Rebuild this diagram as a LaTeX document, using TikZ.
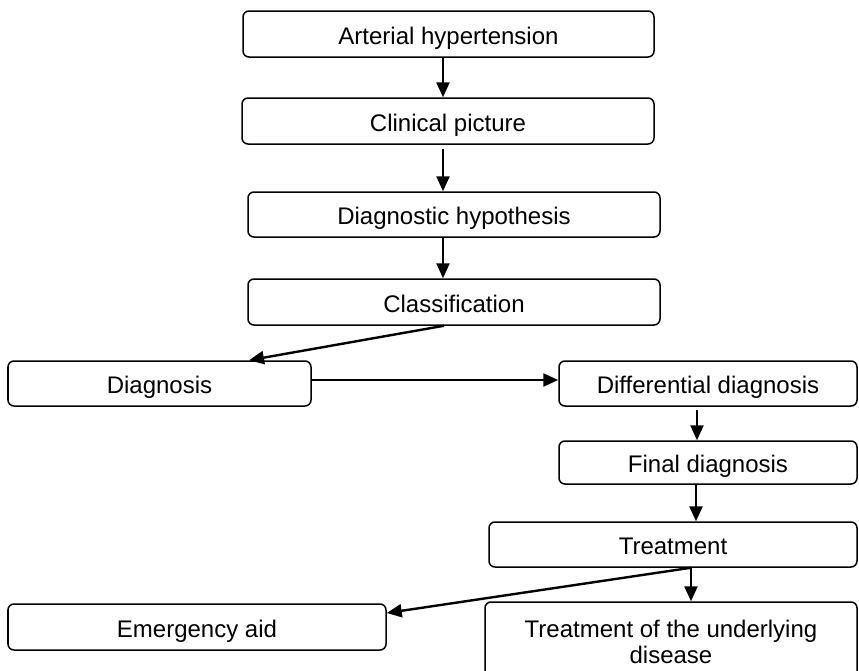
\documentclass[tikz,border=0pt]{standalone}
\usepackage{fontspec}
\setmainfont{Liberation Sans}
\usetikzlibrary{arrows.meta}
\tikzstyle{stage}=[
        draw,
        rounded corners=3pt,
        line width=0.75pt,
        inner sep=0pt,
        text height=10pt,
        text depth=0pt,
        font=\fontsize{12pt}{13pt}\selectfont
]
\tikzstyle{flow}=[
        line width=1.2pt,
        -{Triangle[length=7.5pt,width=6.5pt]}
]

\begin{document}
\begin{tikzpicture}[x=0.5pt,y=-0.5pt]
                        \useasboundingbox (0,0) rectangle (859,671);

                        \node[stage, minimum width=205.5pt, minimum height=23pt] (ah) at (448.5,34) {Arterial hypertension};
                        \node[stage, minimum width=206pt, minimum height=23pt] (cp) at (448,121) {Clinical picture};
                        \node[stage, minimum width=206pt, minimum height=22.5pt] (dh) at (454,214.5) {Diagnostic hypothesis};
                        \node[stage, minimum width=206pt, minimum height=23pt] (cl) at (454,302) {Classification};

                        \node[stage, minimum width=151.5pt, minimum height=22.5pt] (dg) at (159.5,383.5) {Diagnosis};
                        \node[stage, minimum width=149pt, minimum height=22.5pt] (dd) at (708,383.5) {Differential diagnosis};
                        \node[stage, minimum width=149pt, minimum height=21.5pt] (fd) at (708,462.5) {Final diagnosis};
                        \node[stage, minimum width=184pt, minimum height=22.5pt] (tr) at (673,544.5) {Treatment};

                        \node[stage, minimum width=189pt, minimum height=23pt] (ea) at (197,627) {Emergency aid};
                        \node[stage, text height=22pt, minimum width=186pt, minimum height=39pt, align=center] (ud) at (671,641) {Treatment of the underlying\\disease};

                        % main column
                        \draw[flow] ([xshift=-2.75pt]ah.south) -- ([xshift=-2.75pt]ah.south |- cp.north);
                        \draw[flow] ([xshift=-2.5pt,yshift=-2pt]cp.south) -- ([xshift=-2.5pt]cp.south |- dh.north);
                        \draw[flow] ([xshift=-5.5pt]dh.south) -- ([xshift=-5.5pt]dh.south |- cl.north);
                        \draw[flow] ([xshift=-5pt]cl.south) -- ([xshift=44.75pt]dg.north);

                        % diagnosis branch
                        \draw[flow] ([yshift=1.75pt]dg.east) -- ([yshift=1.75pt]dd.west);
                        \draw[flow] ([xshift=-5.5pt,yshift=-1.5pt]dd.south) -- ([xshift=-5.5pt]dd.south |- fd.north);
                        \draw[flow] ([xshift=-6pt]fd.south) -- ([xshift=-6pt]fd.south |- tr.north);

                        % treatment
                        \draw[flow] ([xshift=9pt]tr.south) -- ([yshift=7pt]ea.east);
                        \draw[flow] ([xshift=9pt]tr.south) -- ([xshift=9pt]tr.south |- ud.north);

                    \end{tikzpicture}
\end{document}
